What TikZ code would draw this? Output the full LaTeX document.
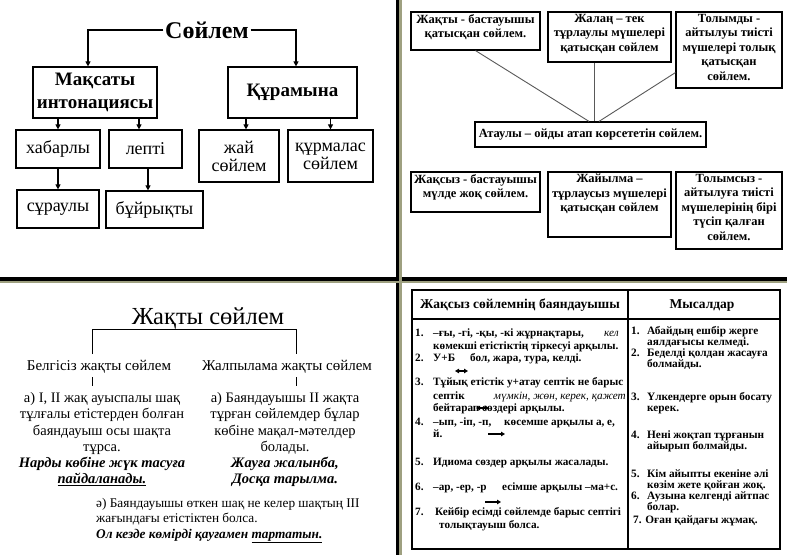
\documentclass[tikz,border=0pt]{standalone}
\usepackage{fontspec}
\setmainfont{Liberation Serif}
\usetikzlibrary{arrows.meta,calc}
\newcommand\fsz[2]{\fontsize{#1bp}{#2bp}\selectfont}
\definecolor{olivesep}{RGB}{158,160,128}
\begin{document}
\begin{tikzpicture}[x=1bp,y=-1bp,
  box/.style={draw, line width=1.2bp, inner sep=0pt, align=center},
  arr/.style={-{Triangle[length=5bp,width=5bp]}, line width=1.1bp},
  gl/.style={draw=black!65, line width=0.9bp},
  tt/.style={font=\bfseries\fsz{12.5}{14.5}, align=center, inner sep=0pt, anchor=north},
  pl/.style={line width=1bp},
  tline/.style={line width=1.3bp},
  tb/.style={font=\bfseries\fsz{11.2}{12}, anchor=base west, inner sep=0pt},
  tr/.style={font=\bfseries\fsz{11.3}{11}, anchor=base west, inner sep=0pt},
  tarr/.style={-{Triangle[length=4bp,width=4.5bp]}, line width=1.3bp},
  tdarr/.style={{Triangle[length=4bp,width=4.5bp]}-{Triangle[length=4bp,width=4.5bp]}, line width=1.3bp}]
\fill[white] (0,0) rectangle (787,555);
\useasboundingbox (0,0) rectangle (787,555);
% separators
\fill[black] (396,0) rectangle (399,555);
\fill[black] (0,277.5) rectangle (787,281);
\fill[olivesep] (399,0) rectangle (401.5,555);
\fill[olivesep] (0,281) rectangle (787,283.5);

% ---------- top-left ----------
\node[font=\bfseries\fsz{24}{26}, inner sep=1.5bp] (soil) at (207,30) {Сөйлем};
\node[box, minimum width=124bp, minimum height=51bp, font=\bfseries\fsz{19}{23}] (maqs) at (95,92.5) {Мақсаты\\интонациясы};
\node[box, minimum width=129bp, minimum height=51bp, font=\bfseries\fsz{19}{23}] (qur) at (292.5,92.5) {Құрамына};
\node[box, minimum width=84bp, minimum height=38bp, font=\fsz{18}{19}] (khab) at (58,149) {хабарлы};
\node[box, minimum width=73bp, minimum height=38bp, font=\fsz{18}{19}] (lepti) at (145.5,149) {лепті};
\node[box, minimum width=82bp, minimum height=38bp, font=\fsz{18}{19}] (suraul) at (58,209) {сұраулы};
\node[box, minimum width=97bp, minimum height=37bp, font=\fsz{18}{19}] (buiryq) at (154.5,209.5) {бұйрықты};
\node[box, minimum width=80bp, minimum height=52bp, font=\fsz{18}{18}] (zhai) at (239,156) {жай\\сөйлем};
\node[box, minimum width=85bp, minimum height=52bp, font=\fsz{18}{18}] (qurmal) at (330.5,156) {құрмалас\\сөйлем};
\draw[arr] (soil.west) -| ([xshift=-7bp]maqs.north);
\draw[arr] (soil.east) -| ([xshift=3.5bp]qur.north);
\coordinate (lepA) at ([xshift=-6.5bp]lepti.north);
\coordinate (lepB) at ([xshift=2.5bp]lepti.south);
\coordinate (zhaiA) at ([xshift=7bp]zhai.north);
\draw[arr] (maqs.south -| khab.north) -- (khab.north);
\draw[arr] (maqs.south -| lepA) -- (lepA);
\draw[arr] (khab.south) -- (suraul.north);
\draw[arr] (lepB) -- (lepB |- buiryq.north);
\draw[arr] (qur.south -| zhaiA) -- (zhaiA);
\draw[arr] (qur.south -| qurmal.north) -- (qurmal.north);

% ---------- top-right ----------
\node[box, minimum width=129bp, minimum height=38bp] (b1) at (475.5,31) {};
\node[box, minimum width=123bp, minimum height=50bp] (b2) at (609.5,37) {};
\node[box, minimum width=106bp, minimum height=76bp] (b3) at (729,50) {};
\node[box, minimum width=231bp, minimum height=25bp, font=\bfseries\fsz{12.5}{14.5}] (atau) at (590.5,134.5) {Атаулы – ойды атап көрсететін сөйлем.};
\node[box, minimum width=129bp, minimum height=40bp] (b4) at (475.5,192) {};
\node[box, minimum width=123bp, minimum height=65bp] (b5) at (609.5,204.5) {};
\node[box, minimum width=106bp, minimum height=77bp] (b6) at (729,210.5) {};
\node[tt] (t1) at ([yshift=-2.5bp]b1.north) {Жақты - бастауышы\\қатысқан сөйлем.};
\node[tt] (t2) at ([yshift=-2.5bp]b2.north) {Жалаң – тек\\тұрлаулы мүшелері\\қатысқан сөйлем};
\node[tt] (t3) at ([yshift=-2.5bp]b3.north) {Толымды -\\айтылуы тиісті\\мүшелері толық\\қатысқан\\сөйлем.};
\node[tt] (t4) at ([yshift=-2.5bp]b4.north) {Жақсыз - бастауышы\\мүлде жоқ сөйлем.};
\node[tt] (t5) at ([yshift=-2.5bp]b5.north) {Жайылма –\\тұрлаусыз мүшелері\\қатысқан сөйлем};
\node[tt] (t6) at ([yshift=-2.5bp]b6.north) {Толымсыз -\\айтылуға тиісті\\мүшелерінің бірі\\түсіп қалған\\сөйлем.};
\coordinate (b2s) at ([xshift=-15.5bp]b2.south);
\draw[gl] (b1.south) -- ([xshift=-1.5bp]atau.north);
\draw[gl] (b2s) -- (b2s |- atau.north);
\draw[gl] ([yshift=16bp]b3.south west) -- ([xshift=8.5bp]atau.north);

% ---------- bottom-left ----------
\node[font=\fsz{24.5}{28}] (zht) at (208,318) {Жақты сөйлем};
\node[font=\fsz{15}{17}] (bel) at (99,367) {Белгісіз жақты сөйлем};
\node[font=\fsz{15}{17}] (zhal) at (287,367) {Жалпылама жақты сөйлем};
\coordinate (brL) at (92,329);
\coordinate (brR) at (296,329);
\coordinate (brLb) at (92,354);
\coordinate (brRb) at (296,354);
\draw[pl] (brLb) -- (brL) -- (brR) -- (brRb);
\coordinate (sLa) at (92,377);
\coordinate (sLb) at (92,386);
\coordinate (sRa) at (296,377);
\coordinate (sRb) at (296,386);
\draw[pl] (sLa) -- (sLb);
\draw[pl] (sRa) -- (sRb);
\node[font=\fsz{14.5}{16.2}, align=center, anchor=north, inner sep=0pt] (pa) at (102,392.5)
 {а) I, II жақ ауыспалы шақ\\тұлғалы етістерден болған\\баяндауыш осы шақта\\тұрса.\\\textbf{\textit{Нарды көбіне жүк тасуға}}\\\textbf{\textit{\underline{пайдаланады.}}}};
\node[font=\fsz{14.5}{16.2}, align=center, anchor=north, inner sep=0pt] (pb) at (285,392.5)
 {а) Баяндауышы II жақта\\тұрған сөйлемдер бұлар\\көбіне мақал-мәтелдер\\болады.\\\textbf{\textit{Жауға жалынба,}}\\\textbf{\textit{Досқа тарылма.}}};
\node[font=\fsz{13.3}{15.5}, align=left, anchor=north west, inner sep=0pt] (pc) at (96,498)
 {ә) Баяндауышы өткен шақ не келер шақтың III\\жағындағы етістіктен болса.\\\textbf{\textit{Ол кезде көмірді қауғамен \underline{тартатын.}}}};

% ---------- bottom-right ----------
\draw[tline] (412,290) rectangle (780,549);
\draw[tline] (412,319) -- (780,319);
\draw[tline] (628,290) -- (628,549);
\node[font=\bfseries\fsz{13.5}{15}, anchor=base] (th1) at (520,309) {Жақсыз сөйлемнің баяндауышы};
\node[font=\bfseries\fsz{13.5}{15}, anchor=base] (th2) at (702,309) {Мысалдар};
% left column
\node[tb] (l1n) at (415,336.5) {1.};
\node[tb] (l1a) at (433,336.5) {–ғы, -гі, -қы, -кі жұрнақтары,};
\node[tb, font=\itshape\fsz{11.2}{12}] (l1k) at (604,336.5) {кел};
\node[tb] (l1b) at (433,349) {көмекші етістіктің тіркесуі арқылы.};
\node[tb] (l2n) at (415,361.5) {2.};
\node[tb] (l2a) at (433,361.5) {У+Б};
\node[tb] (l2b) at (470,361.5) {бол, жара, тура, келді.};
\coordinate (da1) at (455,371);
\coordinate (da2) at (468,371);
\draw[tdarr] (da1) -- (da2);
\node[tb] (l3n) at (415,385.5) {3.};
\node[tb] (l3a) at (433,385.5) {Тұйық етістік у+атау септік не барыс};
\node[tb] (l3b) at (433,399.5) {септік};
\node[tb, font=\itshape\fsz{11.2}{12}, anchor=base east] (l3i) at (626,399.5) {мүмкін, жөн, керек, қажет};
\node[tb] (l3c) at (433,411.5) {бейтарап сөздері арқылы.};
\coordinate (ba1) at (476,408);
\coordinate (ba2) at (489,408);
\draw[tdarr] (ba1) -- (ba2);
\node[tb] (l4n) at (415,425.5) {4.};
\node[tb] (l4a) at (433,425.5) {–ып, -іп, -п,};
\node[tb] (l4b) at (504,425.5) {көсемше арқылы а, е,};
\node[tb] (l4c) at (433,437.5) {й.};
\coordinate (ya1) at (488,434);
\coordinate (ya2) at (505,434);
\draw[tarr] (ya1) -- (ya2);
\node[tb] (l5n) at (415,465.5) {5.};
\node[tb] (l5a) at (433,465.5) {Идиома сөздер арқылы жасалады.};
\node[tb] (l6n) at (415,490.5) {6.};
\node[tb] (l6a) at (433,490.5) {–ар, -ер, -р};
\node[tb] (l6b) at (502,490.5) {есімше арқылы –ма+с.};
\coordinate (sa1) at (485,502);
\coordinate (sa2) at (501,502);
\draw[tarr] (sa1) -- (sa2);
\node[tb] (l7n) at (415,515.5) {7.};
\node[tb] (l7a) at (435,515.5) {Кейбір есімді сөйлемде барыс септігі};
\node[tb] (l7b) at (439,528.5) {толықтауыш болса.};
% right column
\node[tr] (r1n) at (631,334.5) {1.};
\node[tr] (r1a) at (647,334.5) {Абайдың ешбір жерге};
\node[tr] (r1b) at (647,345.5) {аялдағысы келмеді.};
\node[tr] (r2n) at (631,356.5) {2.};
\node[tr] (r2a) at (647,356.5) {Беделді қолдан жасауға};
\node[tr] (r2b) at (647,367.5) {болмайды.};
\node[tr] (r3n) at (631,400) {3.};
\node[tr] (r3a) at (647,400) {Үлкендерге орын босату};
\node[tr] (r3b) at (647,411) {керек.};
\node[tr] (r4n) at (631,438) {4.};
\node[tr] (r4a) at (647,438) {Нені жоқтап тұрғанын};
\node[tr] (r4b) at (647,449) {айырып болмайды.};
\node[tr] (r5n) at (631,477.5) {5.};
\node[tr] (r5a) at (647,477.5) {Кім айыпты екеніне әлі};
\node[tr] (r5b) at (647,488.5) {көзім жете қойған жоқ.};
\node[tr] (r6n) at (631,499.5) {6.};
\node[tr] (r6a) at (647,499.5) {Аузына келгенді айтпас};
\node[tr] (r6b) at (647,510.5) {болар.};
\node[tr] (r7) at (633,523.5) {7. Оған қайдағы жұмақ.};
\end{tikzpicture}
\end{document}
